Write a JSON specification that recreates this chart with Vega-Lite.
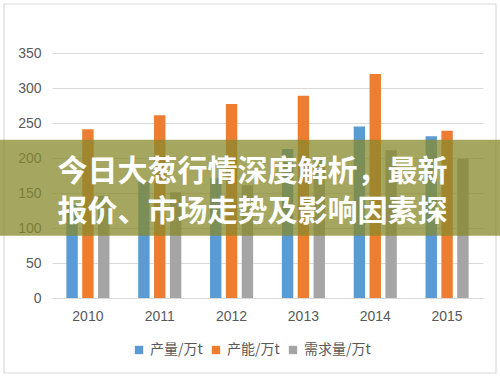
{
  "$schema": "https://vega.github.io/schema/vega-lite/v6.json",
  "width": 431,
  "height": 245,
  "autosize": {"type": "none"},
  "padding": {"left": 52, "top": 53, "right": 17, "bottom": 79},
  "background": "white",
  "config": {
    "view": {"stroke": null, "strokeWidth": 0},
    "font": "Noto Sans CJK SC",
    "axis": {"domain": false, "ticks": false},
    "axisY": {"domain": false, "ticks": false, "gridColor": "#d9d9d9", "labelColor": "#595959", "labelFontSize": 14, "labelFont": "Liberation Sans", "labelPadding": 11, "title": null}
  },
  "layer": [
    {
      "data": {
        "values": [
          {"year": "2010", "series": "产量/万t", "value": 133},
          {"year": "2010", "series": "产能/万t", "value": 241},
          {"year": "2010", "series": "需求量/万t", "value": 146},
          {"year": "2011", "series": "产量/万t", "value": 166},
          {"year": "2011", "series": "产能/万t", "value": 261},
          {"year": "2011", "series": "需求量/万t", "value": 151},
          {"year": "2012", "series": "产量/万t", "value": 171},
          {"year": "2012", "series": "产能/万t", "value": 277},
          {"year": "2012", "series": "需求量/万t", "value": 161},
          {"year": "2013", "series": "产量/万t", "value": 213},
          {"year": "2013", "series": "产能/万t", "value": 289},
          {"year": "2013", "series": "需求量/万t", "value": 200},
          {"year": "2014", "series": "产量/万t", "value": 245},
          {"year": "2014", "series": "产能/万t", "value": 320},
          {"year": "2014", "series": "需求量/万t", "value": 211},
          {"year": "2015", "series": "产量/万t", "value": 231},
          {"year": "2015", "series": "产能/万t", "value": 239},
          {"year": "2015", "series": "需求量/万t", "value": 199}
        ]
      },
      "mark": {"type": "bar"},
      "encoding": {
        "x": {
          "field": "year", "type": "nominal",
          "scale": {"paddingInner": 0.4, "paddingOuter": 0.2},
          "axis": {"title": null, "labelAngle": 0, "ticks": false, "grid": false, "domain": true, "domainColor": "#d9d9d9", "labelColor": "#595959", "labelFontSize": 14, "labelFont": "Liberation Sans", "labelPadding": 11}
        },
        "xOffset": {"field": "series", "type": "nominal", "sort": ["产量/万t", "产能/万t", "需求量/万t"], "scale": {"paddingInner": 0.28}},
        "y": {
          "field": "value", "type": "quantitative",
          "scale": {"domain": [0, 350]},
          "axis": {"title": null, "domain": false, "values": [0, 50, 100, 150, 200, 250, 300, 350], "labelOverlap": false}
        },
        "color": {
          "field": "series", "type": "nominal",
          "scale": {"domain": ["产量/万t", "产能/万t", "需求量/万t"], "range": ["#5b9bd5", "#ed7d31", "#a5a5a5"]},
          "legend": {"title": null, "orient": "none", "legendX": 80, "legendY": 290, "direction": "horizontal", "symbolType": "square", "symbolSize": 70, "symbolStrokeWidth": 0, "labelFontSize": 14, "labelColor": "#595959", "columnPadding": 6, "labelOffset": 4}
        }
      }
    },
    {
      "data": {"values": [{}]},
      "mark": {"type": "rect", "fill": null, "stroke": "#d9d9d9", "strokeWidth": 1.2, "xOffset": -48, "x2Offset": 13, "yOffset": -49, "y2Offset": 75},
      "encoding": {
        "x": {"value": 0},
        "x2": {"value": {"expr": "width"}},
        "y": {"datum": 350, "type": "quantitative", "axis": {"title": null, "domain": false, "values": [0, 50, 100, 150, 200, 250, 300, 350], "labelOverlap": false}},
        "y2": {"datum": 0}
      }
    },
    {
      "data": {"values": [{"top": 226, "bottom": 89}]},
      "mark": {"type": "rect", "color": "#87892c", "opacity": 0.75, "xOffset": -52, "x2Offset": 17},
      "encoding": {
        "x": {"value": 0},
        "x2": {"value": {"expr": "width"}},
        "y": {"field": "top", "type": "quantitative", "axis": {"title": null, "domain": false, "values": [0, 50, 100, 150, 200, 250, 300, 350], "labelOverlap": false}},
        "y2": {"field": "bottom"}
      }
    },
    {
      "data": {"values": [
        {"line": "今日大葱行情深度解析，最新", "pos": 180},
        {"line": "报价、市场走势及影响因素探", "pos": 123}
      ]},
      "mark": {"type": "text", "color": "white", "fontSize": 30, "fontWeight": "bold", "font": "Noto Sans CJK SC", "align": "center", "baseline": "middle", "dx": -15},
      "encoding": {
        "y": {"field": "pos", "type": "quantitative", "axis": {"title": null, "domain": false, "values": [0, 50, 100, 150, 200, 250, 300, 350], "labelOverlap": false}},
        "text": {"field": "line"}
      }
    }
  ]
}
